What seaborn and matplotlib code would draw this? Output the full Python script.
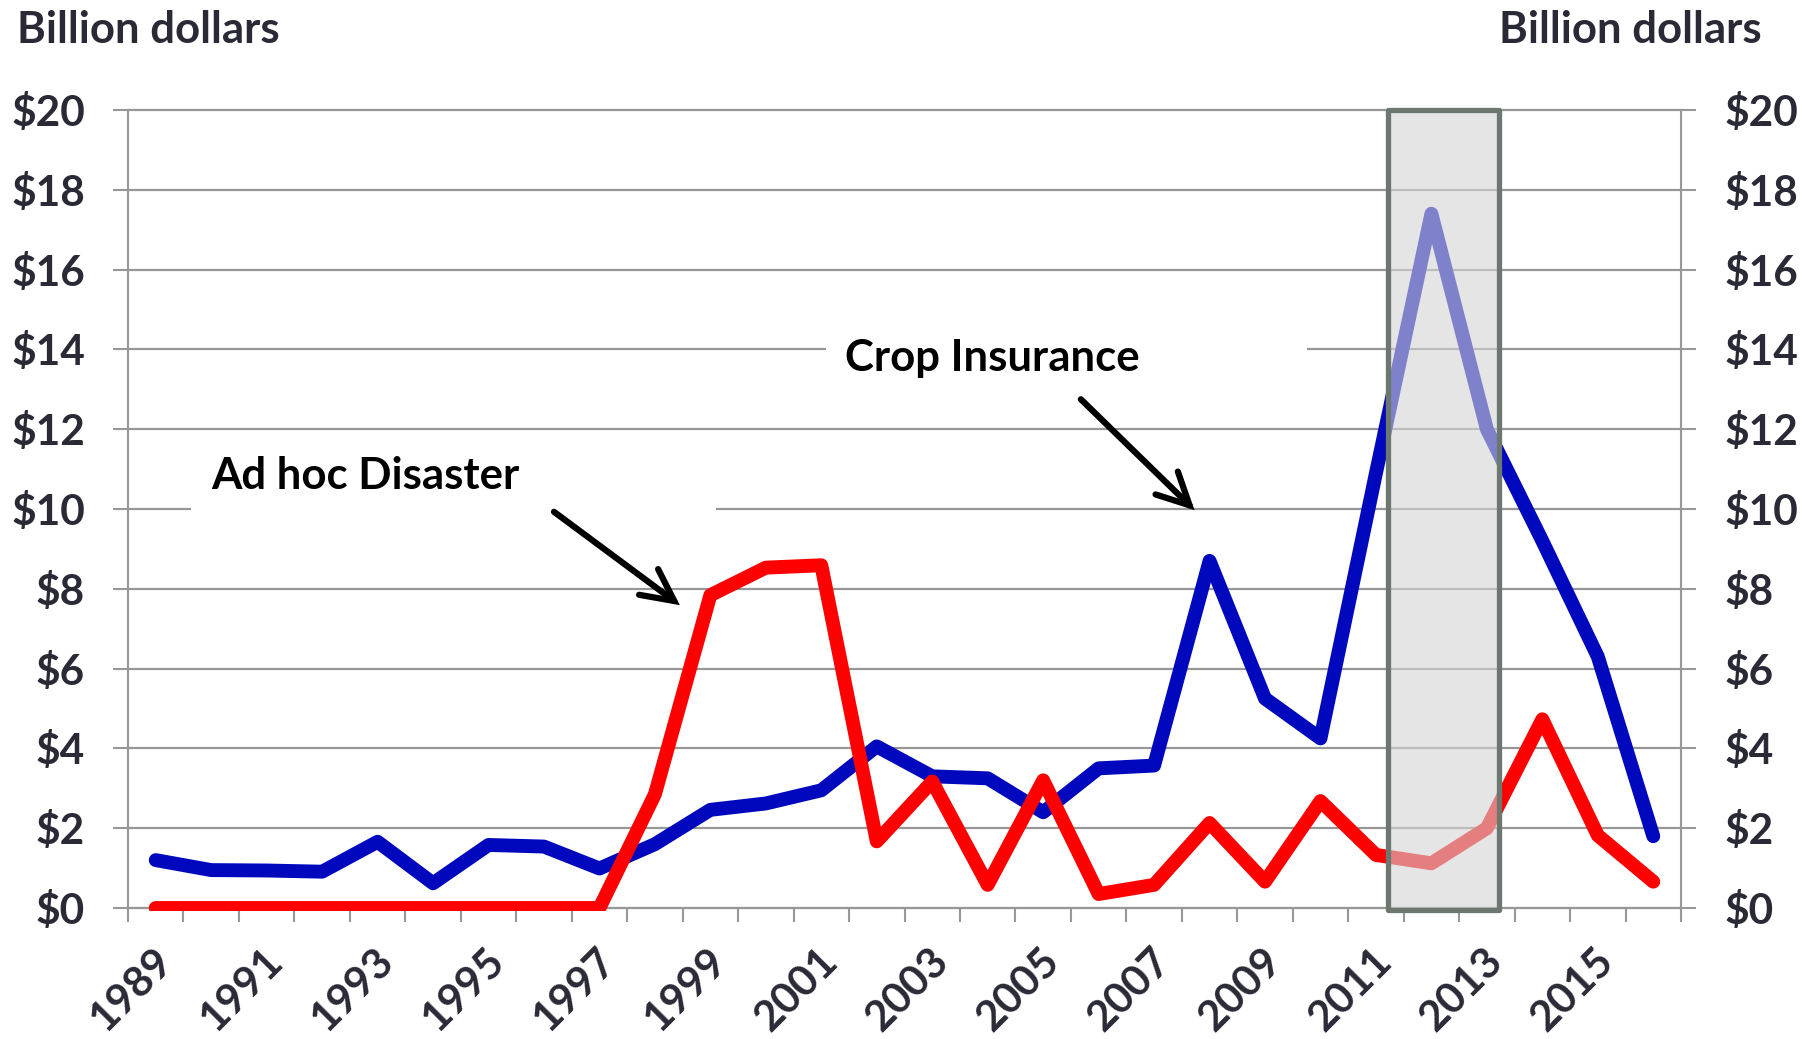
import numpy as np
import pandas as pd
import matplotlib
matplotlib.use("Agg")
import matplotlib.pyplot as plt
import seaborn as sns
from matplotlib.patches import Rectangle
from matplotlib.transforms import ScaledTranslation, Bbox, TransformedBbox

# ---- data (billion dollars per year) ----
years = list(range(1989, 2017))
crop_insurance = [1.2, 0.95, 0.94, 0.91, 1.66, 0.62, 1.58, 1.54, 0.99, 1.6,
                  2.46, 2.62, 2.95, 4.05, 3.3, 3.25, 2.4, 3.5, 3.57, 8.7,
                  5.25, 4.25, 10.9, 17.4, 12.0, 9.2, 6.3, 1.8]
ad_hoc_disaster = [0, 0, 0, 0, 0, 0, 0, 0, 0, 2.85,
                   7.84, 8.53, 8.59, 1.67, 3.17, 0.58, 3.2, 0.35, 0.58, 2.13,
                   0.66, 2.68, 1.33, 1.12, 2.0, 4.73, 1.82, 0.66]
label_years = list(range(1989, 2017, 2))
y_ticks = list(range(0, 21, 2))
y_tick_labels = [f"${v}" for v in y_ticks]
highlight_years = (2011.21, 2013.22)

BLUE = "#0008be"
RED = "#ff0000"
GRID = "#979797"
TXT = "#2a2a36"
BOX_EDGE = "#6c786f"

sns.set_theme(style="white")
plt.rcParams["font.family"] = ["Lato", "DejaVu Sans"]
plt.rcParams["font.weight"] = "bold"

W, H = 1802, 1039
fig = plt.figure(figsize=(W / 100, H / 100), dpi=100)
ax = fig.add_axes([128 / W, (H - 908) / H, (1681 - 128) / W, (908 - 110) / H])

df = pd.DataFrame({"Year": years,
                   "Crop Insurance": crop_insurance,
                   "Ad hoc Disaster": ad_hoc_disaster})
sns.lineplot(data=df, x="Year", y="Crop Insurance", color=BLUE, lw=10, ax=ax)
sns.lineplot(data=df, x="Year", y="Ad hoc Disaster", color=RED, lw=10, ax=ax)
for ln in ax.lines:
    ln.set_solid_capstyle("round")
    ln.set_solid_joinstyle("round")
    ln.set_zorder(3)

ax.set_xlim(1988.5, 2016.5)
ax.set_ylim(0, 20)
ax.set_xlabel("")
ax.set_ylabel("")

# let the red line sit a few pixels over the zero axis
ax.lines[-1].set_clip_box(TransformedBbox(Bbox([[0, -0.004], [1, 1]]), ax.transAxes))

# y axis: gridlines and labels on both sides
ax.set_yticks(y_ticks, labels=y_tick_labels)
ax.yaxis.grid(True, color=GRID, lw=1.6)
for gl in ax.get_ygridlines():
    gl.set_clip_on(False)
ax.xaxis.grid(False)
ax.tick_params(axis="y", which="major", direction="out", length=11, width=1.5,
               color=GRID, left=True, right=True, labelleft=True, labelright=True,
               pad=20, labelsize=30.5, labelcolor=TXT)

# x axis: tick marks between categories, labels on every other year
ax.set_xticks(np.arange(1988.5, 2016.6, 1.0), labels=[])
ax.tick_params(axis="x", which="major", direction="out", length=10, width=1.5,
               color=GRID, bottom=True)
ax.set_xticks(label_years, minor=True)
ax.set_xticklabels([str(y) for y in label_years], minor=True, rotation=45,
                   ha="right", va="center", rotation_mode="anchor")
ax.tick_params(axis="x", which="minor", length=0, pad=34, labelsize=30.5,
               labelcolor=TXT)
shift = ScaledTranslation(10 / 100, 0, fig.dpi_scale_trans)
for lab in ax.get_xticklabels(minor=True):
    lab.set_transform(lab.get_transform() + shift)

for side in ("left", "right", "bottom"):
    ax.spines[side].set_visible(True)
    ax.spines[side].set_color(GRID)
    ax.spines[side].set_linewidth(1.5)
ax.spines["top"].set_visible(False)

# highlighted period
x0, x1 = highlight_years
ax.add_patch(Rectangle((x0, -0.05), x1 - x0, 20.05,
                       facecolor=(0.835, 0.835, 0.835, 0.6), edgecolor=BOX_EDGE,
                       lw=3.8, joinstyle="round", zorder=4, clip_on=False))

# series call-outs with white backing over the gridlines
ax.add_patch(Rectangle((1989.64, 9.0), 1999.1 - 1989.64, 2.3,
                       facecolor="white", edgecolor="none", zorder=1.2))
ax.add_patch(Rectangle((2001.09, 12.7), 2009.76 - 2001.09, 2.3,
                       facecolor="white", edgecolor="none", zorder=1.2))
ax.text(1990.0, 10.50, "Ad hoc Disaster", fontsize=31.5, fontweight="bold",
        color="black", ha="left", va="baseline", zorder=5)
ax.text(2001.42, 13.47, "Crop Insurance", fontsize=31.5, fontweight="bold",
        color="black", ha="left", va="baseline", zorder=5)

arrow_style = dict(arrowstyle="->,head_length=23,head_width=11.5",
                   mutation_scale=1, lw=4.5, color="black",
                   shrinkA=0, shrinkB=0, capstyle="round", joinstyle="miter")
ax.annotate("", xy=(1998.45, 7.59), xytext=(1996.18, 9.93),
            arrowprops=arrow_style, zorder=5)
ax.annotate("", xy=(2007.73, 9.97), xytext=(2005.68, 12.75),
            arrowprops=arrow_style, zorder=5)

# unit captions above both axes
fig.text(17 / W, 1 - 43.3 / H, "Billion dollars", fontsize=31.5,
         fontweight="bold", color=TXT, ha="left", va="baseline")
fig.text(1762 / W, 1 - 43.3 / H, "Billion dollars", fontsize=31.5,
         fontweight="bold", color=TXT, ha="right", va="baseline")

fig.savefig("out.png", dpi=100, facecolor="white")
